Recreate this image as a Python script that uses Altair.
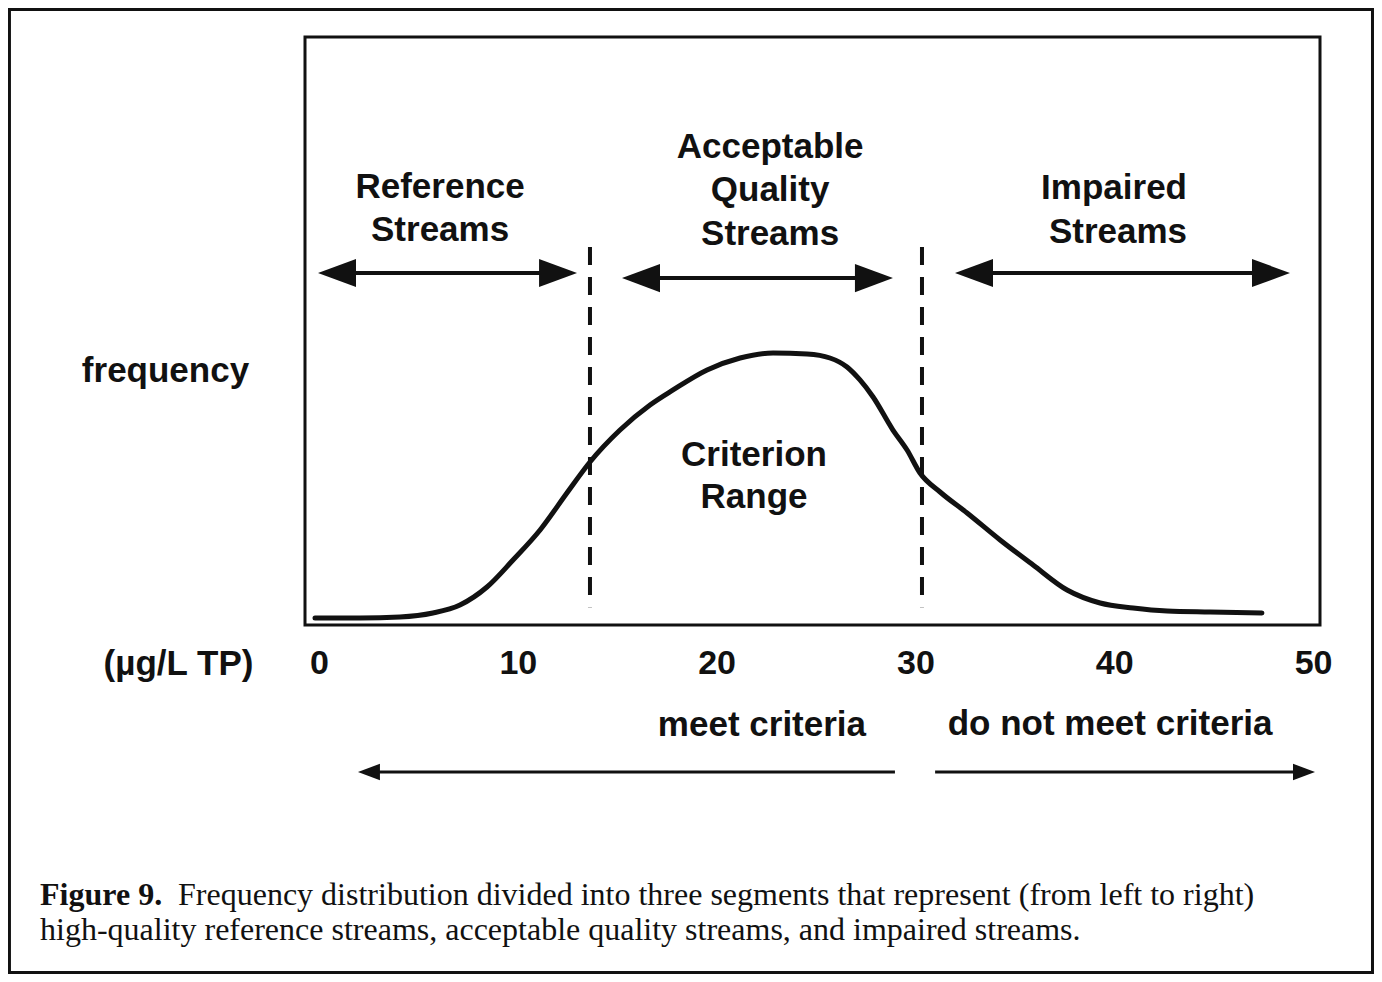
import altair as alt
import pandas as pd

# ---------------- data ----------------
# frequency curve (x in ug/L TP, y = relative frequency, 0-100 = box height)
curve_x = [-0.20, 2.06, 4.07, 5.73, 7.09, 8.45, 9.76, 11.12, 12.47, 13.63, 15.14,
           16.65, 17.81, 19.52, 21.18, 22.84, 24.55, 25.70, 26.56, 27.21, 27.87,
           28.87, 29.58, 30.23, 31.24, 32.60, 34.26, 35.92, 37.63, 39.29, 40.95,
           42.66, 44.82, 47.43]
curve_y = [1.19, 1.19, 1.36, 2.04, 3.40, 6.46, 11.05, 16.16, 22.45, 27.72, 33.16,
           37.41, 39.97, 43.37, 45.41, 46.26, 46.09, 45.41, 43.88, 41.67, 38.78,
           33.16, 29.76, 25.85, 22.62, 19.05, 14.46, 10.20, 5.95, 3.74, 2.89,
           2.38, 2.21, 2.04]

# dashed dividers between segments
divider_x = [13.63, 30.33]
divider_top = [64.3, 64.3]
divider_bottom = [3.0, 3.0]

# double-headed segment arrows
seg_left = [-0.05, 15.24, 31.99]
seg_right = [12.98, 28.87, 48.84]
seg_y = [59.86, 59.0, 59.86]

# criteria arrows below the axis
crit_left_tip = [1.96]
crit_left_end = [28.97]
crit_right_start = [30.99]
crit_right_tip = [50.10]
crit_y = [-25.0]

# bold annotation texts
label_text = ["Reference", "Streams", "Acceptable", "Quality", "Streams",
              "Impaired", "Streams", "Criterion", "Range",
              "meet criteria", "do not meet criteria"]
label_x = [6.09, 6.09, 22.69, 22.69, 22.69, 39.99, 40.19, 21.88, 21.88, 22.28, 39.79]
label_y = [74.49, 67.18, 81.29, 73.98, 66.50, 74.32, 66.84, 28.91, 21.77, -17.01, -16.84]

tick_values = [0, 10, 20, 30, 40, 50]

caption_bold = "Figure 9."
caption_line1 = "Frequency distribution divided into three segments that represent (from left to right)"
caption_line2 = "high-quality reference streams, acceptable quality streams, and impaired streams."
caption_x = [-14.03, -7.09, -14.03]
caption_y = [-45.92, -45.92, -51.87]

frame_x = [-15.57, 52.99]
frame_y = [104.68, -59.10]

# ---------------- chart ----------------
X_DOMAIN = [-0.704, 50.35]
Y_DOMAIN = [0, 100]
SANS = "Liberation Sans"
SERIF = "Liberation Serif"
INK = "#111111"
CAP_SIZE = 32

xs = alt.Scale(domain=X_DOMAIN, nice=False, zero=False)
ys = alt.Scale(domain=Y_DOMAIN, nice=False, zero=False)

x_axis = alt.Axis(values=tick_values, labelFont=SANS, labelFontSize=34, labelFontWeight="bold",
                  labelColor=INK, labelPadding=38, labelBaseline="middle", labelFlush=False,
                  ticks=False, domain=False, grid=False,
                  title="(µg/L TP)", titleFont=SANS, titleFontSize=35, titleFontWeight="bold",
                  titleColor=INK, titleAngle=0, titleAlign="center", titleBaseline="middle",
                  titleX=-127, titleY=38)
y_axis = alt.Axis(labels=False, ticks=False, domain=False, grid=False,
                  title="frequency", titleFont=SANS, titleFontSize=35, titleFontWeight="bold",
                  titleColor=INK, titleAngle=0, titleAlign="center", titleBaseline="middle",
                  titleX=-140, titleY=333)

frame_df = pd.DataFrame({"x": [frame_x[0]], "x2": [frame_x[1]], "y": [frame_y[0]], "y2": [frame_y[1]]})
frame = alt.Chart(frame_df).mark_rect(fillOpacity=0, stroke=INK, strokeWidth=3).encode(
    x=alt.X("x:Q", scale=xs, axis=x_axis), x2="x2:Q",
    y=alt.Y("y:Q", scale=ys, axis=y_axis), y2="y2:Q")

curve_df = pd.DataFrame({"x": curve_x, "y": curve_y})
curve = alt.Chart(curve_df).mark_line(color=INK, strokeWidth=5, interpolate="monotone",
                                      strokeCap="round").encode(
    x=alt.X("x:Q", scale=xs), y=alt.Y("y:Q", scale=ys))

div_df = pd.DataFrame({"x": divider_x, "y": divider_top, "y2": divider_bottom})
dividers = alt.Chart(div_df).mark_rule(color=INK, strokeWidth=4, strokeDash=[18, 12]).encode(
    x=alt.X("x:Q", scale=xs), y=alt.Y("y:Q", scale=ys), y2="y2:Q")

# segment arrow shafts (stop inside the heads)
seg_df = pd.DataFrame({"a": [v + 1.0 for v in seg_left], "b": [v - 1.0 for v in seg_right], "y": seg_y})
seg_shafts = alt.Chart(seg_df).mark_rule(color=INK, strokeWidth=4).encode(
    x=alt.X("a:Q", scale=xs), x2="b:Q", y=alt.Y("y:Q", scale=ys))

LEFT_HEAD = "M0,0L2,-0.74L2,0.74Z"
RIGHT_HEAD = "M0,0L-2,-0.74L-2,0.74Z"

seg_lh = alt.Chart(pd.DataFrame({"x": seg_left, "y": seg_y})).mark_point(
    shape=LEFT_HEAD, filled=True, color=INK, opacity=1, size=1444, strokeWidth=0).encode(
    x=alt.X("x:Q", scale=xs), y=alt.Y("y:Q", scale=ys))
seg_rh = alt.Chart(pd.DataFrame({"x": seg_right, "y": seg_y})).mark_point(
    shape=RIGHT_HEAD, filled=True, color=INK, opacity=1, size=1444, strokeWidth=0).encode(
    x=alt.X("x:Q", scale=xs), y=alt.Y("y:Q", scale=ys))

crit_df = pd.DataFrame({"a": [crit_left_tip[0] + 0.5, crit_right_start[0]],
                        "b": [crit_left_end[0], crit_right_tip[0] - 0.5],
                        "y": [crit_y[0], crit_y[0]]})
crit_shafts = alt.Chart(crit_df).mark_rule(color=INK, strokeWidth=3).encode(
    x=alt.X("a:Q", scale=xs), x2="b:Q", y=alt.Y("y:Q", scale=ys))
crit_lh = alt.Chart(pd.DataFrame({"x": crit_left_tip, "y": crit_y})).mark_point(
    shape=LEFT_HEAD, filled=True, color=INK, opacity=1, size=484, strokeWidth=0).encode(
    x=alt.X("x:Q", scale=xs), y=alt.Y("y:Q", scale=ys))
crit_rh = alt.Chart(pd.DataFrame({"x": crit_right_tip, "y": crit_y})).mark_point(
    shape=RIGHT_HEAD, filled=True, color=INK, opacity=1, size=484, strokeWidth=0).encode(
    x=alt.X("x:Q", scale=xs), y=alt.Y("y:Q", scale=ys))

lab_df = pd.DataFrame({"t": label_text, "x": label_x, "y": label_y})
labels = alt.Chart(lab_df).mark_text(font=SANS, fontSize=35, fontWeight="bold", color=INK,
                                     align="center", baseline="middle").encode(
    x=alt.X("x:Q", scale=xs), y=alt.Y("y:Q", scale=ys), text="t:N")

cap_b = alt.Chart(pd.DataFrame({"t": [caption_bold], "x": [caption_x[0]], "y": [caption_y[0]]})).mark_text(
    font=SERIF, fontSize=CAP_SIZE, fontWeight="bold", color=INK, align="left", baseline="middle").encode(
    x=alt.X("x:Q", scale=xs), y=alt.Y("y:Q", scale=ys), text="t:N")
cap_n = alt.Chart(pd.DataFrame({"t": [caption_line1, caption_line2], "x": caption_x[1:],
                                "y": caption_y[1:]})).mark_text(
    font=SERIF, fontSize=CAP_SIZE, color=INK, align="left", baseline="middle").encode(
    x=alt.X("x:Q", scale=xs), y=alt.Y("y:Q", scale=ys), text="t:N")

chart = alt.layer(frame, curve, dividers, seg_shafts, seg_lh, seg_rh,
                  crit_shafts, crit_lh, crit_rh, labels, cap_b, cap_n).properties(
    width=1015, height=588,
    autosize=alt.AutoSizeParams(type="none"),
    padding={"left": 297, "top": 29, "right": 54, "bottom": 349},
    background="white",
).configure_view(stroke=INK, strokeWidth=3)

chart.save("out.html", embed_options={"renderer": "svg", "actions": False})
